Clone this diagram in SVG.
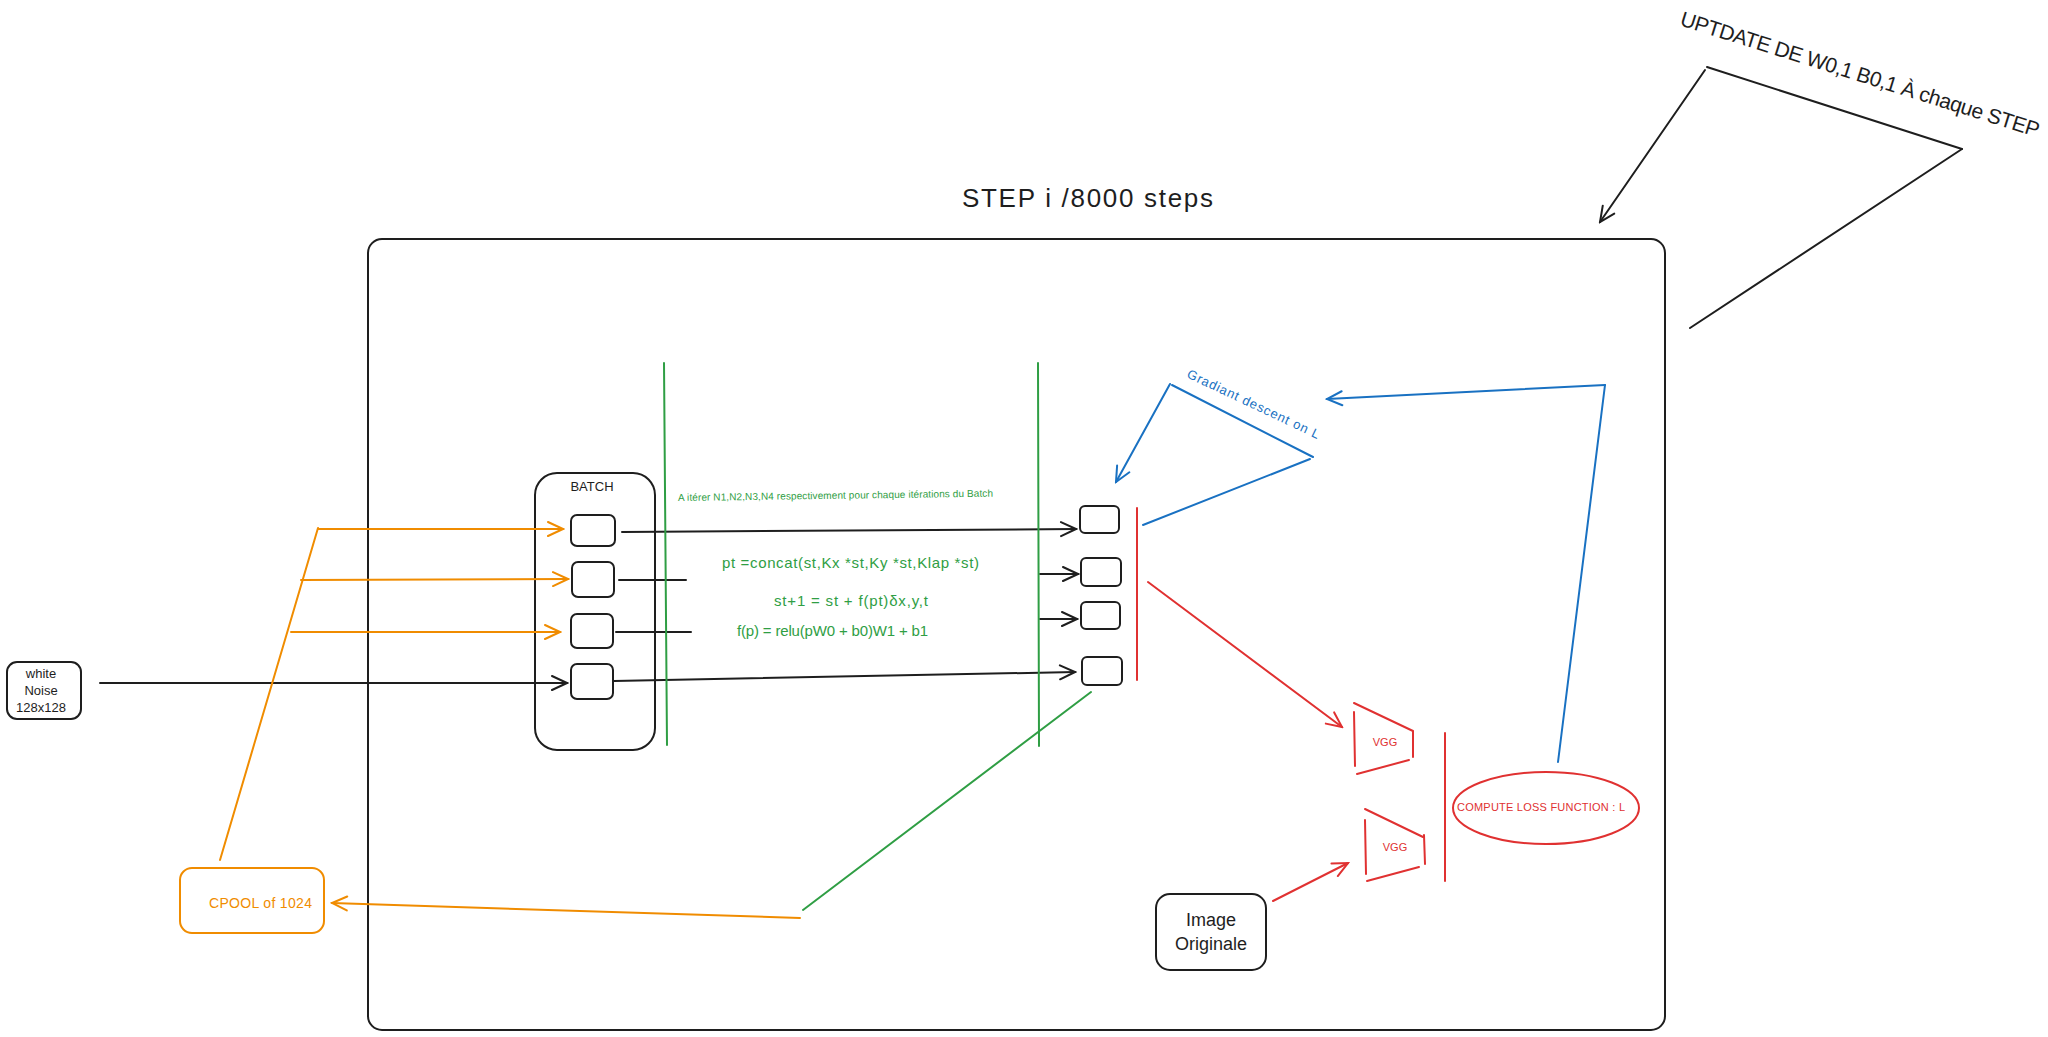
<svg xmlns="http://www.w3.org/2000/svg" width="2048" height="1037" viewBox="0 0 2048 1037">
<style>
text{font-family:"Liberation Sans",Arial,sans-serif;}
.k{stroke:#1e1e1e;fill:none;stroke-width:2;stroke-linecap:round;}
.g{stroke:#2f9e44;fill:none;stroke-width:2;stroke-linecap:round;}
.o{stroke:#f08c00;fill:none;stroke-width:2;stroke-linecap:round;}
.b{stroke:#1971c2;fill:none;stroke-width:2;stroke-linecap:round;}
.r{stroke:#e03131;fill:none;stroke-width:2;stroke-linecap:round;}
.tk{fill:#1e1e1e;}
.tg{fill:#2f9e44;}
.to{fill:#f08c00;}
.tb{fill:#1971c2;}
.tr{fill:#e03131;}
</style>
<defs>
<marker id="ak" viewBox="0 0 20 20" refX="18" refY="10" markerWidth="20" markerHeight="20" markerUnits="userSpaceOnUse" orient="auto"><path d="M3,3 L18,10 L3,17" fill="none" stroke="#1e1e1e" stroke-width="2" stroke-linecap="round"/></marker>
<marker id="ao" viewBox="0 0 20 20" refX="18" refY="10" markerWidth="20" markerHeight="20" markerUnits="userSpaceOnUse" orient="auto"><path d="M3,3 L18,10 L3,17" fill="none" stroke="#f08c00" stroke-width="2" stroke-linecap="round"/></marker>
<marker id="ab" viewBox="0 0 20 20" refX="18" refY="10" markerWidth="20" markerHeight="20" markerUnits="userSpaceOnUse" orient="auto"><path d="M3,3 L18,10 L3,17" fill="none" stroke="#1971c2" stroke-width="2" stroke-linecap="round"/></marker>
<marker id="ar" viewBox="0 0 20 20" refX="18" refY="10" markerWidth="20" markerHeight="20" markerUnits="userSpaceOnUse" orient="auto"><path d="M3,3 L18,10 L3,17" fill="none" stroke="#e03131" stroke-width="2" stroke-linecap="round"/></marker>
</defs>
<rect width="2048" height="1037" fill="#ffffff"/>

<g id="frame">
<rect x="368" y="239" width="1297" height="791" rx="14" class="k"/>
<text x="962" y="207" font-size="26" class="tk" textLength="251">STEP i /8000 steps</text>
</g>

<g id="update-note">
<text x="1679" y="25" font-size="21" class="tk" textLength="375" transform="rotate(17.4 1679 25)">UPTDATE DE W0,1 B0,1 À chaque STEP</text>
</g>

<g id="white-noise">
<rect x="7" y="662" width="74" height="57" rx="10" class="k"/>
<text x="41" y="678" font-size="13" class="tk" text-anchor="middle">white</text>
<text x="41" y="695" font-size="13" class="tk" text-anchor="middle">Noise</text>
<text x="41" y="712" font-size="13" class="tk" text-anchor="middle">128x128</text>
</g>

<g id="cpool">
<rect x="180" y="868" width="144" height="65" rx="12" class="o"/>
<text x="209" y="908" font-size="14" class="to" textLength="103">CPOOL of 1024</text>
</g>

<g id="batch">
<rect x="535" y="473" width="120" height="277" rx="22" class="k"/>
<text x="592" y="491" font-size="13" class="tk" text-anchor="middle">BATCH</text>
<rect x="571" y="515" width="44" height="31" rx="6" class="k"/>
<rect x="572" y="562" width="42" height="35" rx="6" class="k"/>
<rect x="571" y="614" width="42" height="34" rx="6" class="k"/>
<rect x="571" y="664" width="42" height="35" rx="6" class="k"/>
</g>

<g id="outputs">
<rect x="1080" y="506" width="39" height="27" rx="5" class="k"/>
<rect x="1081" y="558" width="40" height="28" rx="5" class="k"/>
<rect x="1081" y="602" width="39" height="27" rx="5" class="k"/>
<rect x="1082" y="657" width="40" height="28" rx="5" class="k"/>
</g>

<g id="nca-text">
<text x="678" y="501" font-size="10" class="tg" textLength="315" transform="rotate(-0.8 678 501)">A itérer N1,N2,N3,N4 respectivement pour chaque itérations du Batch</text>
<text x="722" y="568" font-size="15" class="tg" textLength="257">pt =concat(st,Kx *st,Ky *st,Klap *st)</text>
<text x="774" y="606" font-size="15" class="tg" textLength="154">st+1 = st + f(pt)δx,y,t</text>
<text x="737" y="636" font-size="15" class="tg" textLength="191">f(p) = relu(pW0 + b0)W1 + b1</text>
</g>

<g id="vgg1">
<path d="M1354,712 L1355,766 M1354,703 L1413,731 M1413,731 L1413,757 M1357,774 L1409,760" class="r"/>
<text x="1385" y="746" font-size="11" class="tr" text-anchor="middle">VGG</text>
</g>
<g id="vgg2">
<path d="M1365,820 L1366,874 M1365,809 L1423,837 M1424,835 L1425,864 M1367,881 L1419,867" class="r"/>
<text x="1395" y="851" font-size="11" class="tr" text-anchor="middle">VGG</text>
</g>

<g id="loss">
<ellipse cx="1546" cy="808" rx="93" ry="36" class="r"/>
<text x="1457" y="811" font-size="11" class="tr" textLength="168">COMPUTE LOSS FUNCTION : L</text>
</g>

<g id="image-originale">
<rect x="1156" y="894" width="110" height="76" rx="14" class="k"/>
<text x="1211" y="926" font-size="18" class="tk" text-anchor="middle">Image</text>
<text x="1211" y="950" font-size="18" class="tk" text-anchor="middle">Originale</text>
</g>

<g id="gradient-label">
<text x="1186" y="377" font-size="13" class="tb" textLength="145" transform="rotate(25.3 1186 377)">Gradiant descent on L</text>
</g>

<g id="connectors">
<!-- top right -->
<line x1="1705" y1="70" x2="1600" y2="222" class="k" marker-end="url(#ak)"/>
<line x1="1707" y1="67" x2="1962" y2="149" class="k"/>
<line x1="1962" y1="149" x2="1690" y2="328" class="k"/>
<!-- noise to batch -->
<line x1="100" y1="683" x2="567" y2="683" class="k" marker-end="url(#ak)"/>
<!-- orange pool to batch -->
<line x1="220" y1="860" x2="318" y2="528" class="o"/>
<line x1="318" y1="529" x2="563" y2="529" class="o" marker-end="url(#ao)"/>
<line x1="301" y1="580" x2="568" y2="579" class="o" marker-end="url(#ao)"/>
<line x1="291" y1="632" x2="560" y2="632" class="o" marker-end="url(#ao)"/>
<!-- batch outputs -->
<line x1="622" y1="532" x2="1076" y2="529" class="k" marker-end="url(#ak)"/>
<line x1="619" y1="580" x2="686" y2="580" class="k"/>
<line x1="616" y1="632" x2="691" y2="632" class="k"/>
<line x1="614" y1="681" x2="1075" y2="672" class="k" marker-end="url(#ak)"/>
<line x1="1040" y1="574" x2="1078" y2="574" class="k" marker-end="url(#ak)"/>
<line x1="1040" y1="619" x2="1077" y2="619" class="k" marker-end="url(#ak)"/>
<!-- green verticals -->
<line x1="664" y1="363" x2="667" y2="745" class="g"/>
<line x1="1038" y1="363" x2="1039" y2="746" class="g"/>
<!-- red vertical next to outputs -->
<line x1="1137" y1="508" x2="1137" y2="680" class="r"/>
<!-- output to VGG -->
<line x1="1148" y1="582" x2="1342" y2="727" class="r" marker-end="url(#ar)"/>
<!-- image to VGG2 -->
<line x1="1273" y1="901" x2="1348" y2="863" class="r" marker-end="url(#ar)"/>
<!-- red vertical between VGG and loss -->
<line x1="1445" y1="733" x2="1445" y2="881" class="r"/>
<!-- blue gradient path -->
<line x1="1558" y1="762" x2="1605" y2="385" class="b"/>
<line x1="1605" y1="385" x2="1327" y2="399" class="b" marker-end="url(#ab)"/>
<line x1="1143" y1="525" x2="1310" y2="459" class="b" stroke-width="2.5"/>
<line x1="1172" y1="385" x2="1313" y2="457" class="b" stroke-width="2.5"/>
<line x1="1170" y1="384" x2="1116" y2="482" class="b" marker-end="url(#ab)"/>
<!-- green feedback and orange back to pool -->
<line x1="1091" y1="692" x2="803" y2="910" class="g"/>
<line x1="800" y1="918" x2="332" y2="903" class="o" marker-end="url(#ao)"/>
</g>
</svg>
